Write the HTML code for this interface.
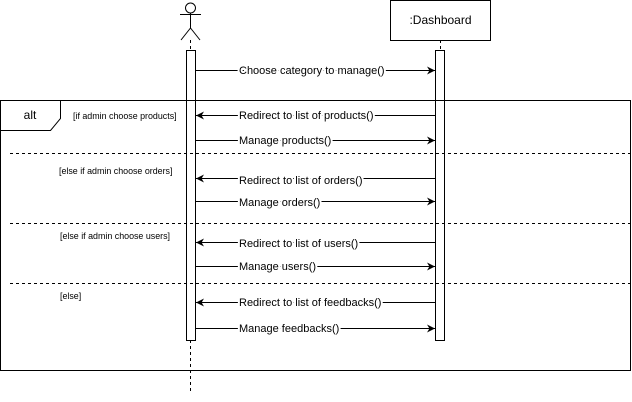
<!DOCTYPE html>
<html><head><meta charset="utf-8"><style>
body{margin:0;background:#fff}
svg{display:block}
text{font-family:"Liberation Sans",Arial,sans-serif;fill:#000}
.m{font-size:11px}
.c{font-size:8.9px}
</style></head><body>
<svg width="632" height="402" viewBox="0 0 632 402" xmlns="http://www.w3.org/2000/svg">
<defs><marker id="a" viewBox="0 0 10 10" refX="10" refY="5" markerWidth="8" markerHeight="8" orient="auto-start-reverse" markerUnits="userSpaceOnUse"><path d="M0,0 L10,5 L0,10 L3,5 z" fill="#000"/></marker></defs>
<g stroke="#000" stroke-width="1" fill="none">
<circle cx="190.5" cy="8" r="5" fill="#fff"/>
<line x1="190.5" y1="13" x2="190.5" y2="28"/>
<line x1="180" y1="14.5" x2="201" y2="14.5"/>
<line x1="190.5" y1="28" x2="181" y2="40"/>
<line x1="190.5" y1="28" x2="200" y2="40"/>
<line x1="190.5" y1="40" x2="190.5" y2="50" stroke-dasharray="3,3"/>
<line x1="190.5" y1="340" x2="190.5" y2="392" stroke-dasharray="3,3"/>
<rect x="390.5" y="0.5" width="100" height="40" fill="#fff"/>
<line x1="440.5" y1="40" x2="440.5" y2="50" stroke-dasharray="3,3"/>
<rect x="186.5" y="50.5" width="9" height="290" fill="#fff"/>
<rect x="435.5" y="50.5" width="9" height="290" fill="#fff"/>
<rect x="0.5" y="100.5" width="630" height="270"/>
<path d="M0.5,130.5 L50.5,130.5 L60.5,118.5 L60.5,100.5"/>
<g stroke-dasharray="3,3">
<line x1="10" y1="153.5" x2="631" y2="153.5"/>
<line x1="10" y1="223.5" x2="631" y2="223.5"/>
<line x1="10" y1="283.5" x2="631" y2="283.5"/>
</g>
<line x1="195" y1="70.5" x2="435" y2="70.5" marker-end="url(#a)"/>
<line x1="435" y1="115.5" x2="196" y2="115.5" marker-end="url(#a)"/>
<line x1="195" y1="140.5" x2="435" y2="140.5" marker-end="url(#a)"/>
<line x1="435" y1="178.5" x2="196" y2="178.5" marker-end="url(#a)"/>
<line x1="195" y1="201.5" x2="435" y2="201.5" marker-end="url(#a)"/>
<line x1="435" y1="242.5" x2="196" y2="242.5" marker-end="url(#a)"/>
<line x1="195" y1="266.5" x2="435" y2="266.5" marker-end="url(#a)"/>
<line x1="435" y1="302.5" x2="196" y2="302.5" marker-end="url(#a)"/>
<line x1="195" y1="328.5" x2="435" y2="328.5" marker-end="url(#a)"/>
</g>
<text x="440.5" y="24" text-anchor="middle" style="font-size:12px">:Dashboard</text>
<text x="30" y="119" text-anchor="middle" style="font-size:12px">alt</text>
<text x="73" y="119" class="c">[if admin choose products]</text>
<text x="59" y="174" class="c">[else if admin choose orders]</text>
<text x="60" y="239" class="c">[else if admin choose users]</text>
<text x="60" y="299" class="c">[else]</text>
<g class="m">
<text x="239" y="74" style="paint-order:stroke;stroke:#fff;stroke-width:4px">Choose category to manage()</text>
<text x="239" y="119" style="paint-order:stroke;stroke:#fff;stroke-width:4px">Redirect to list of products()</text>
<text x="239" y="144" style="paint-order:stroke;stroke:#fff;stroke-width:4px">Manage products()</text>
<text x="239" y="184" style="paint-order:stroke;stroke:#fff;stroke-width:4px">Redirect to list of orders()</text>
<text x="239" y="206" style="paint-order:stroke;stroke:#fff;stroke-width:4px">Manage orders()</text>
<text x="239" y="247" style="paint-order:stroke;stroke:#fff;stroke-width:4px">Redirect to list of users()</text>
<text x="239" y="270" style="paint-order:stroke;stroke:#fff;stroke-width:4px">Manage users()</text>
<text x="239" y="306" style="paint-order:stroke;stroke:#fff;stroke-width:4px">Redirect to list of feedbacks()</text>
<text x="239" y="332" style="paint-order:stroke;stroke:#fff;stroke-width:4px">Manage feedbacks()</text>
</g>
</svg>
</body></html>
